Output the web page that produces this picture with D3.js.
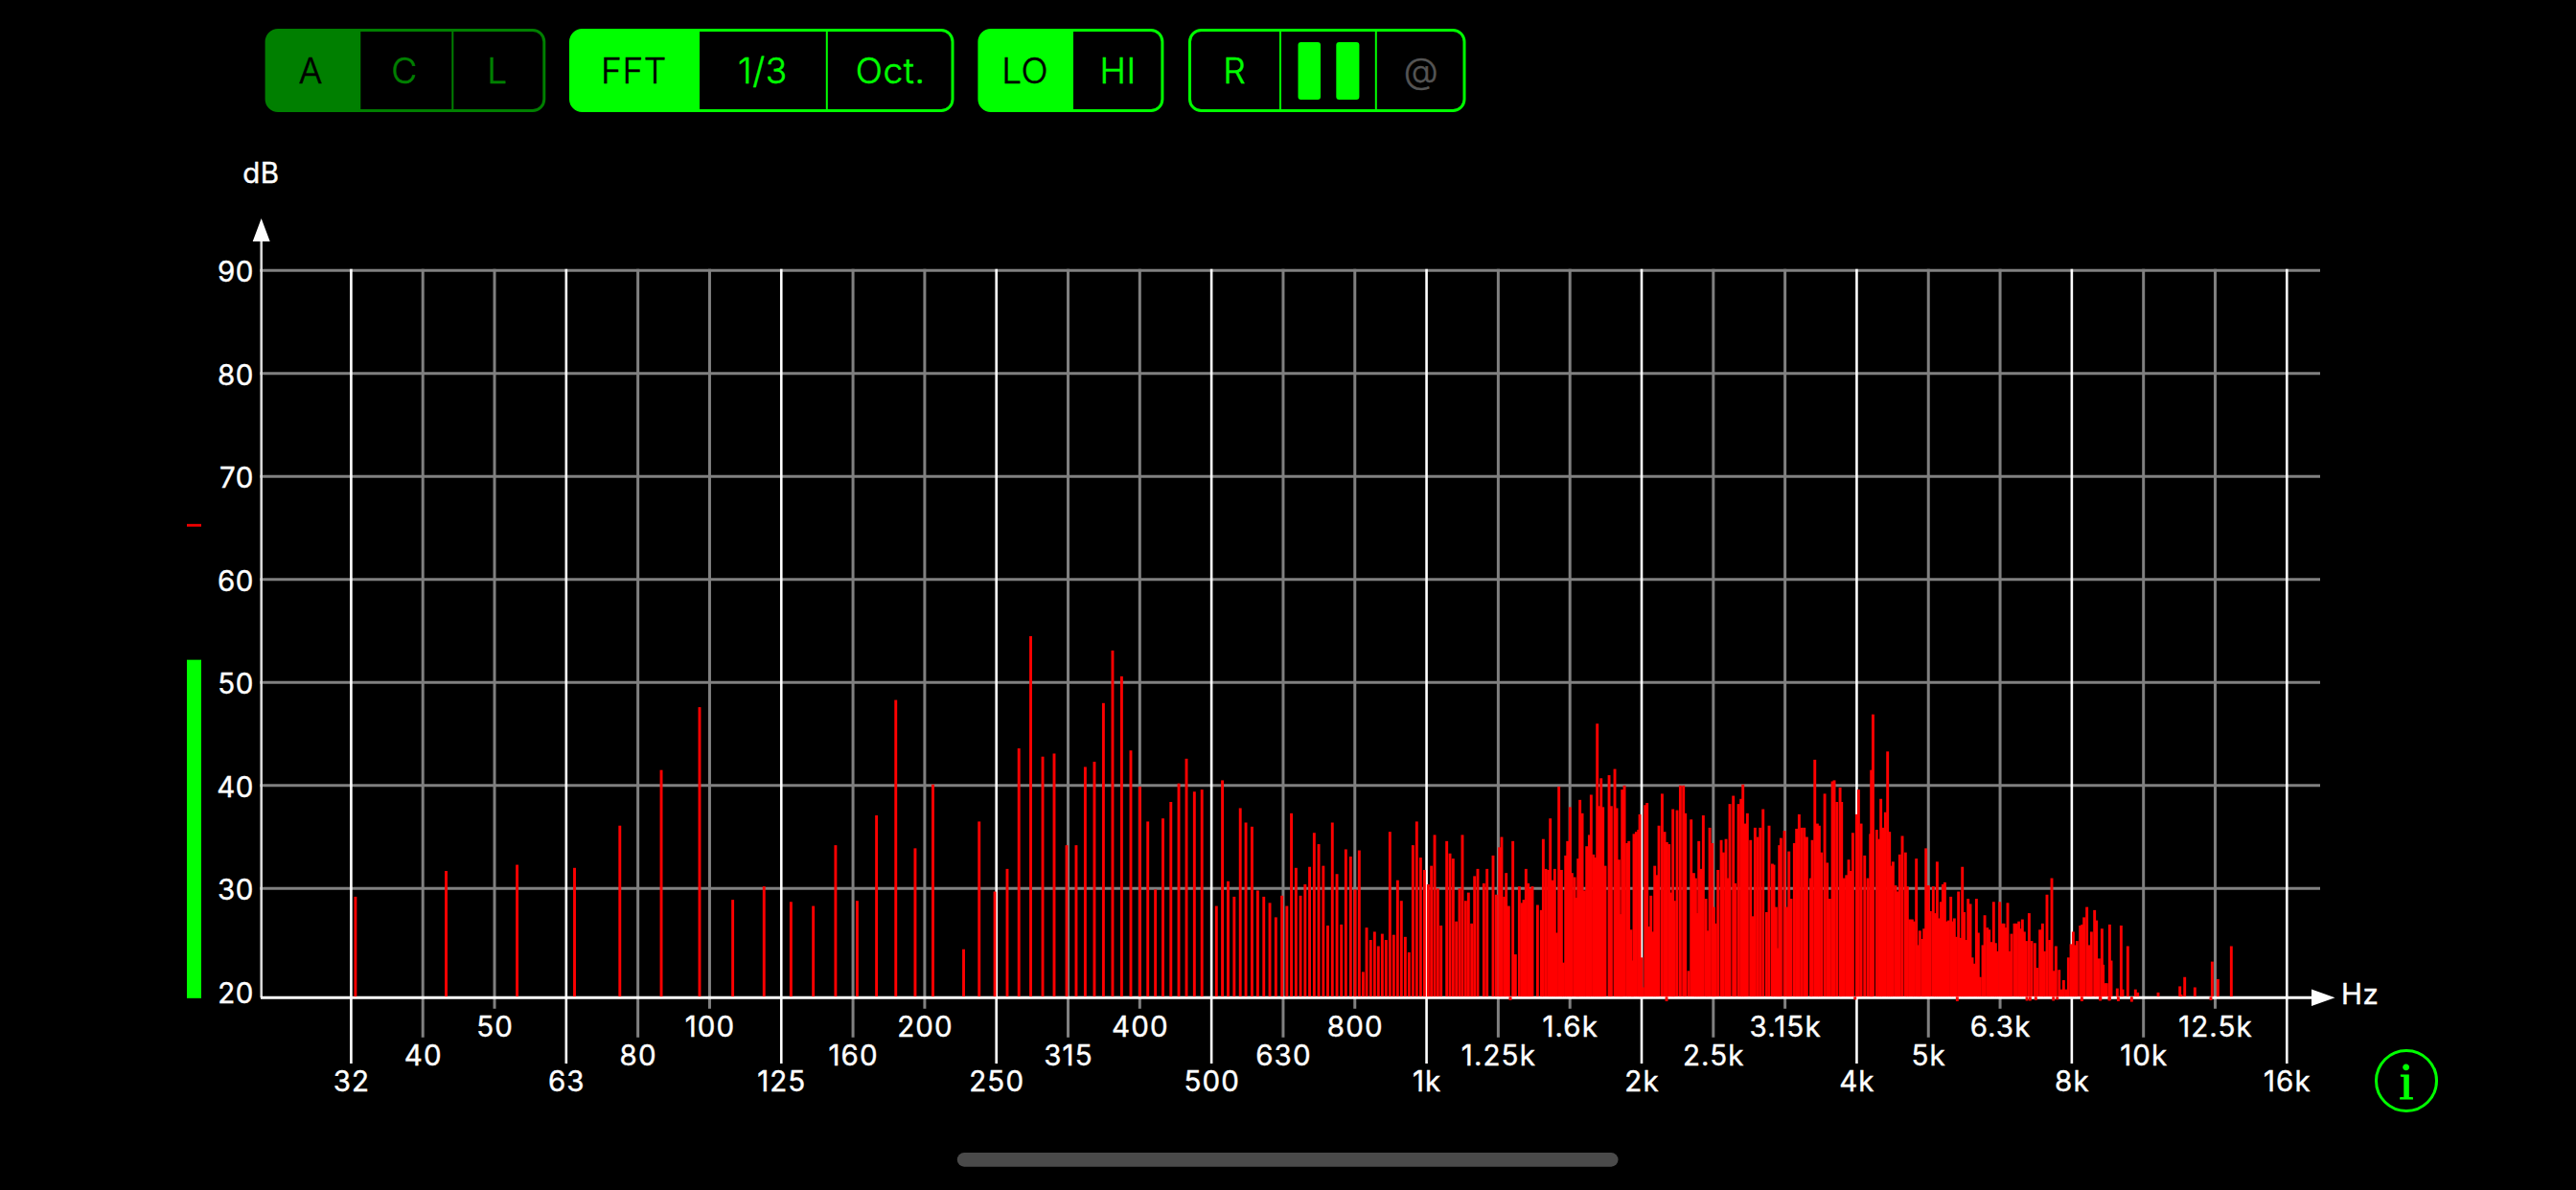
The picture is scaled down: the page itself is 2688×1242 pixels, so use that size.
<!DOCTYPE html>
<html><head><meta charset="utf-8">
<style>html,body{margin:0;padding:0;background:#000;overflow:hidden}svg{display:block}text{font-family:Inter,"Liberation Sans",sans-serif}</style>
<script src="https://cdn.jsdelivr.net/npm/d3@7/dist/d3.min.js"></script>
</head><body>
<svg id="c" width="2688" height="1242"></svg>
<script>
const freqLabels=["32","40","50","63","80","100","125","160","200","250","315","400","500","630","800","1k","1.25k","1.6k","2k","2.5k","3.15k","4k","5k","6.3k","8k","10k","12.5k","16k"];
const dbTicks=[20,30,40,50,60,70,80,90];
const levelNow=52.2, levelPeak=65.27, axisFloorDb=19.45;
// position of each spectrum bar, in third-octave bands counted from the 32 Hz tick
const barBand=[0.06,1.325,2.315,3.116,3.748,4.326,4.86,5.323,5.759,6.135,6.446,6.757,7.058,7.328,7.597,7.867,8.115,8.543,8.76,8.978,9.151,9.314,9.479,9.646,9.806,9.98,10.113,10.239,10.367,10.493,10.621,10.747,10.875,11.001,11.112,11.218,11.323,11.434,11.544,11.651,11.762,11.867,12.069,12.153,12.232,12.317,12.402,12.48,12.565,12.645,12.73,12.814,12.898,12.983,13.052,13.115,13.179,13.242,13.306,13.369,13.433,13.496,13.56,13.622,13.686,13.75,13.812,
13.874,13.941,14.003,14.061,14.115,14.164,14.221,14.275,14.328,14.382,14.435,14.489,14.542,14.596,14.649,14.703,14.756,14.81,14.863,14.917,14.97,15.024,15.068,15.113,15.157,15.202,15.282,15.327,15.371,15.416,15.46,15.5,15.545,15.585,15.63,15.67,15.714,15.799,15.844,15.928,15.973,16.017,16.048,16.084,16.111,16.146,16.204,16.24,16.294,16.329,16.356,16.387,16.418,16.445,16.476,
16.548,16.601,16.628,16.664,16.699,16.726,16.757,16.788,16.815,16.846,16.882,16.909,16.94,16.967,17.002,17.029,17.065,17.096,17.114,17.14,17.172,17.203,17.234,17.27,17.296,17.328,17.354,17.381,17.408,17.435,17.461,17.492,17.546,17.577,17.626,17.653,17.684,17.711,17.729,17.76,17.795,17.822,17.853,17.871,17.893,17.925,17.956,17.974,18.0,18.018,18.05,18.076,18.103,18.13,18.161,18.183,18.21,18.241,18.286,18.321,18.352,18.384,18.415,18.437,18.459,18.495,18.54,18.584,18.611,18.655,18.691,18.727,18.754,18.776,18.798,18.825,18.86,18.896,18.918,18.95,18.985,19.007,19.03,19.065,19.11,19.141,19.177,19.204,19.23,19.279,19.306,19.351,19.386,19.413,19.44,19.475,19.52,19.551,19.582,19.618,19.654,19.694,19.743,19.778,19.823,19.845,19.876,19.899,19.921,19.943,19.992,20.028,20.055,20.086,20.13,20.161,20.197,20.233,20.269,20.304,20.358,20.38,20.416,20.451,20.478,20.509,20.554,20.589,20.625,20.661,20.687,20.723,20.768,20.79,20.825,20.857,20.888,20.915,20.946,20.999,21.026,21.062,21.111,21.155,21.191,21.204,21.227,
21.279,21.31,21.337,21.364,21.4,21.431,21.458,21.48,21.507,21.542,21.569,21.6,21.636,21.68,21.707,21.738,21.774,21.801,21.832,21.859,21.881,21.917,21.939,21.966,22.001,22.028,22.068,22.095,22.122,22.148,22.175,22.202,22.229,22.255,22.282,22.313,22.335,22.362,22.389,22.42,22.447,22.474,22.5,22.527,22.554,22.585,22.612,22.638,22.67,22.696,22.723,22.759,22.786,22.821,22.848,22.875,22.91,22.937,22.964,22.995,23.026,23.053,23.08,23.106,23.133,23.16,23.2,23.231,23.262,23.285,23.311,23.338,23.365,23.405,23.44,23.485,23.516,23.556,23.592,23.619,23.654,23.69,23.721,23.748,23.779,23.824,23.855,23.886,23.917,23.953,23.989,24.02,24.047,24.073,24.118,24.145,24.171,24.211,24.243,24.274,24.318,24.345,24.381,
24.421,24.438,24.465,24.487,24.528,24.55,24.634,24.688,24.71,24.781,24.888,24.92,25.205,25.508,25.526,25.575,25.717,25.958,26.038,26.225];
const barDb=[29.2,31.7,32.3,32,36.1,41.5,47.6,28.9,30.2,28.7,28.3,34.2,28.8,37.1,48.3,33.9,40.1,24.1,36.5,29.7,31.9,43.6,54.5,42.8,43.1,34.2,34.2,41.8,42.3,48,53.1,50.6,43.4,39.9,36.5,29.9,36.8,38.4,40.2,42.6,39.4,39.6,28.3,40.5,30.7,29.2,37.8,36.4,36,29.8,29.2,28.6,27.2,29.3,28.3,37.3,32,29.3,30.4,32.1,35.4,34.3,32.2,26.4,36.4,31.4,26.5,
33.8,33.1,29.9,33.7,21.9,26.2,25,25.8,24.4,25.6,25,35.5,25.5,30.8,28.8,25.3,23.8,34.2,36.5,33,31.8,30.4,32.2,35.2,30,26.4,34.6,33.4,32.9,26.8,30,35.2,28.8,29.6,26.6,31.2,31.9,30.5,31.9,33.2,29.4,34,35,29.2,31.5,28.3,34.6,23.6,30.2,28.6,28.9,31.9,30.5,30,30.2,
28.4,27.9,34.8,31.9,31.8,36.8,30.8,31.9,25.7,39.9,31.8,22.8,33.2,34.6,37.9,31.5,31.1,29.1,32.9,38.6,37.3,29.8,34.1,35.2,39.1,33.3,33,46,38,40.7,37.9,32.2,41,38,41.6,37.8,32.8,27.5,39.6,40,34.4,34.6,26,23,35.3,35.5,35.7,37.2,23.3,20.4,38.1,38.3,26.3,29.3,25.8,32.2,31.3,36.1,39.2,35.5,34.5,34.3,29.6,37.7,28.8,37.6,40,40,37.3,22,36.7,31.5,31,27.6,34.6,31.9,37.1,29,25.9,35.9,34.4,28.2,26.6,31.8,34.7,33.5,34.8,31,38.2,39,30.5,38.2,38.7,40.1,36.3,37.3,34.7,27.3,35.9,35,35.9,37.7,27.7,36.1,32.4,32.3,28.2,24.2,34.2,34.9,35.6,28.2,33.6,29,34.4,35.8,37.2,35.9,35.9,35,31,34.7,42.5,36.3,36.1,33.5,39.2,32.5,29,40.4,40.5,38.4,39.8,38.4,31,31.3,32.8,31.7,35.4,37.2,39.6,36.3,33.2,31,35.3,41.5,46.9,
35.7,34.8,38.7,35.9,37.4,43.3,35.5,32.2,32.6,30.3,29.7,33.3,35.1,33.5,30.2,27,27,26.8,32.9,24.5,25.9,25.1,26.1,33.9,30.3,27.8,30.2,27.6,32.6,27.1,28.7,30.4,30.6,26.8,26.9,29.2,26.8,27.1,25.3,29.7,25.2,32.1,27.7,25,29,28.5,23.3,22.7,29,25.7,21.4,24.5,27.4,26.2,26,24.8,28.7,24.7,23.9,28.7,26.6,26.6,26.2,28.6,23.9,25.6,26.6,26.6,26.8,26.1,27,25.8,24.9,27.6,24.9,24.7,22.3,26,26.6,23.9,29.4,25,31,22,24.4,22.1,20.2,21.1,20.2,23.3,24.6,25.8,24.5,24.9,26.4,26.5,27.2,28.2,24.5,25.8,27.9,26.9,23.2,
26.1,22.6,20.8,20.8,26.5,23,20.3,26.4,20.2,24.4,20.2,19.9,19.9,20.5,19.7,21.4,20.4,22.9,21.2,24.4];
// bins that fall below the axis floor and show as short stubs under it
const stubBand=[16.169,18.348,20.977,22.402,23.374,23.418,23.498,23.744,23.797,24.14,24.399,24.528,24.398,24.523,24.648,24.835,25.94];
const stubDb=[19.15,19.05,19.2,19.05,19.1,19.1,19.15,19.1,19.2,19.05,19.15,19.15,19.1,19.1,19.05,19,19.15];
const buttonGroups=[
 {x:[276.6,375.3,472.3,569.3],labels:["A","C","L"],on:0,color:"#007f00",textOn:"#000",text:"#007f00"},
 {x:[594,729,862.8,995.5],labels:["FFT","1/3","Oct."],on:0,color:"#00ff00",textOn:"#000",text:"#00ff00"},
 {x:[1020.4,1119,1214.4],labels:["LO","HI"],on:0,color:"#00ff00",textOn:"#000",text:"#00ff00"},
 {x:[1240,1336,1435.8,1529.5],labels:["R","","@"],on:-1,color:"#00ff00",textOn:"#000",text:"#00ff00"}
];

const svg=d3.select("#c");
svg.append("rect").attr("width",2688).attr("height",1242).attr("fill","#000");
const y=d3.scaleLinear().domain([20,90]).range([1034.8,282.3]);
const xBand=d3.scaleLinear().domain([0,27]).range([366.4,2386.3]);
const xTick=d3.scalePoint().domain(freqLabels).range([366.4,2386.3]);
const floorY=y(axisFloorDb)+0.6;

// buttons
const btnTop=31.5,btnH=84;
buttonGroups.forEach((g,gi)=>{
  const x0=g.x[0]+1.5,x1=g.x[g.x.length-1]-1.5;
  const G=svg.append("g");
  const id="clip"+gi;
  G.append("clipPath").attr("id",id).append("rect").attr("x",x0).attr("y",btnTop).attr("width",x1-x0).attr("height",btnH).attr("rx",12);
  if(g.on>=0) G.append("rect").attr("clip-path",`url(#${id})`).attr("x",g.x[g.on]).attr("y",btnTop).attr("width",g.x[g.on+1]-g.x[g.on]).attr("height",btnH).attr("fill",g.color);
  G.append("rect").attr("x",x0).attr("y",btnTop).attr("width",x1-x0).attr("height",btnH).attr("rx",12).attr("fill","none").attr("stroke",g.color).attr("stroke-width",3);
  g.x.slice(1,-1).forEach(d=>G.append("line").attr("x1",d).attr("x2",d).attr("y1",btnTop).attr("y2",btnTop+btnH).attr("stroke",g.color).attr("stroke-width",2));
  g.labels.forEach((t,i)=>{
    G.append("text").attr("x",(g.x[i]+g.x[i+1])/2-(gi===0?2:0)).attr("y",87).attr("text-anchor","middle")
     .attr("font-size",37).attr("font-weight",300).attr("letter-spacing",t.length>1?0.6:0)
     .attr("stroke",t==="@"?"#555":(i===g.on?g.textOn:g.text)).attr("stroke-width",0.5)
     .attr("fill",t==="@"?"#555":(i===g.on?g.textOn:g.text)).text(t);
  });
});
[[1354.5,1378],[1394.3,1418.4]].forEach(b=>svg.append("rect").attr("x",b[0]).attr("y",44).attr("width",b[1]-b[0]).attr("height",60).attr("rx",3).attr("fill","#00ff00"));

// horizontal grid
svg.append("g").selectAll("line").data(dbTicks.filter(d=>d>20)).join("line")
 .attr("x1",271).attr("x2",2421).attr("y1",d=>y(d)).attr("y2",d=>y(d)).attr("stroke","#808080").attr("stroke-width",3);
// axes lines
svg.append("line").attr("x1",272.7).attr("x2",272.7).attr("y1",250).attr("y2",floorY).attr("stroke","#d8d8d8").attr("stroke-width",2.6);
svg.append("path").attr("d","M272.7,228L281.7,252L263.7,252Z").attr("fill","#fff");
// vertical grid, three staggered label rows
const rowEnd=[1052.7,1082.7,1110], rowBase=[1081.7,1111.7,1139];
const rowOf=i=>[2,1,0][i%3];
svg.append("g").selectAll("line").data(freqLabels).join("line")
 .attr("x1",d=>xTick(d)).attr("x2",d=>xTick(d)).attr("y1",y(90)-1.5)
 .attr("y2",(d,i)=>rowEnd[rowOf(i)])
 .attr("stroke",(d,i)=>rowOf(i)===2?"#fff":"#808080").attr("stroke-width",(d,i)=>rowOf(i)===2?2.6:3);
svg.append("line").attr("x1",272).attr("x2",2412).attr("y1",floorY).attr("y2",floorY).attr("stroke","#fff").attr("stroke-width",3);
svg.append("path").attr("d",`M2436.5,${floorY}L2412,${floorY-8.7}L2412,${floorY+8.7}Z`).attr("fill","#fff");

// x tick labels through axis generator
const labelStyle=s=>s.attr("font-size",29.5).attr("letter-spacing",1.1).attr("fill","#fff").attr("stroke","#fff").attr("stroke-width",0.4);
const xAxisG=svg.append("g").call(d3.axisBottom(xTick).tickSize(0).tickPadding(0));
xAxisG.select(".domain").remove();
xAxisG.attr("font-family",null).attr("font-size",null);
xAxisG.selectAll("text").call(labelStyle).attr("dy",0).attr("y",(d,i)=>rowBase[rowOf(i)]);
// y tick labels
const yAxisG=svg.append("g").attr("transform","translate(265,0)").call(d3.axisLeft(y).tickValues(dbTicks).tickSize(0).tickPadding(0));
yAxisG.select(".domain").remove();
yAxisG.attr("font-family",null).attr("font-size",null);
yAxisG.selectAll("text").call(labelStyle).attr("letter-spacing",0.6).attr("dy",0).attr("y",11.4);

// spectrum
const bars=barBand.map((b,i)=>({b,db:barDb[i]}));
svg.append("g").selectAll("rect").data(bars).join("rect")
 .attr("x",d=>xBand(d.b)-1.45).attr("width",2.9)
 .attr("y",d=>y(d.db)).attr("height",d=>Math.max(0,floorY-1.2-y(d.db))).attr("fill","#ff0000");
const stubs=stubBand.map((b,i)=>({b,db:stubDb[i]}));
svg.append("g").selectAll("rect").data(stubs).join("rect")
 .attr("x",d=>xBand(d.b)-1.45).attr("width",2.9)
 .attr("y",floorY-1).attr("height",d=>y(d.db)-floorY+1).attr("fill","#ff0000");

// axis titles
svg.append("text").attr("x",272.5).attr("y",190.5).attr("text-anchor","middle").attr("font-size",29.5).attr("letter-spacing",0.6).attr("stroke","#fff").attr("stroke-width",0.4).attr("fill","#fff").text("dB");
svg.append("text").attr("x",2443).attr("y",1048).attr("font-size",29.5).attr("letter-spacing",0.6).attr("stroke","#fff").attr("stroke-width",0.4).attr("fill","#fff").text("Hz");

// level meter
svg.append("rect").attr("x",195).attr("width",15).attr("y",y(levelNow)).attr("height",floorY+0.5-y(levelNow)).attr("fill","#00ff00");
svg.append("rect").attr("x",195).attr("width",15).attr("y",y(levelPeak)-1.3).attr("height",2.8).attr("fill","#f00000");

// info icon
svg.append("circle").attr("cx",2511).attr("cy",1128).attr("r",31.5).attr("fill","none").attr("stroke","#00ff00").attr("stroke-width",3);
svg.append("text").attr("x",2511).attr("y",1146.5).attr("text-anchor","middle").attr("font-size",54).attr("font-weight",400)
 .style("font-family","'Liberation Serif',serif").attr("stroke","#00ff00").attr("stroke-width",1).attr("fill","#00ff00").text("i");

// home indicator
svg.append("rect").attr("x",998.8).attr("y",1203).attr("width",689.7).attr("height",14.7).attr("rx",7.3).attr("fill","#4a4a4a");
</script>
</body></html>
